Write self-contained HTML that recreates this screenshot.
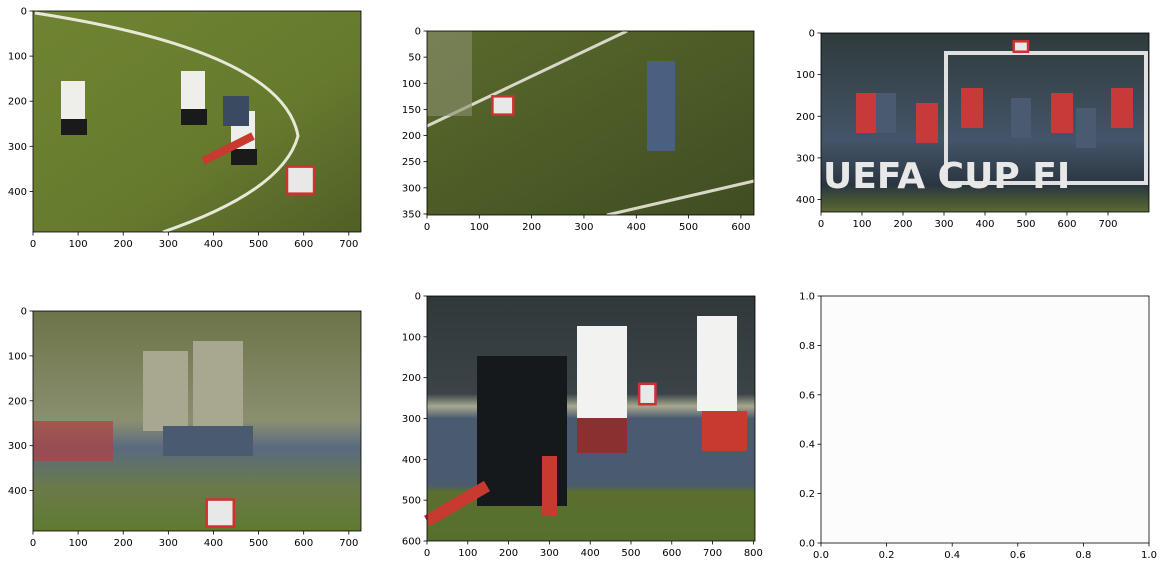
<!DOCTYPE html>
<html><head><meta charset="utf-8"><style>
body{margin:0;background:#fff;}
svg{display:block;font-family:"DejaVu Sans","Liberation Sans",sans-serif;}
</style></head><body>
<svg id="fig" width="1164" height="567" viewBox="0 0 1164 567" xmlns="http://www.w3.org/2000/svg">
<defs>
<linearGradient id="g1" x1="0" y1="0" x2="1" y2="1"><stop offset="0" stop-color="#6f8432"/><stop offset="0.6" stop-color="#667a2e"/><stop offset="1" stop-color="#4f5f26"/></linearGradient>
<linearGradient id="g2" x1="0" y1="0" x2="1" y2="1"><stop offset="0" stop-color="#5a6a2c"/><stop offset="1" stop-color="#3f4d22"/></linearGradient>
<linearGradient id="g3" x1="0" y1="0" x2="0" y2="1"><stop offset="0" stop-color="#2f3a3a"/><stop offset="0.6" stop-color="#44556a"/><stop offset="0.85" stop-color="#2a3540"/><stop offset="1" stop-color="#5a6a30"/></linearGradient>
<linearGradient id="g4" x1="0" y1="0" x2="0" y2="1"><stop offset="0" stop-color="#6c7448"/><stop offset="0.5" stop-color="#8a8f70"/><stop offset="0.62" stop-color="#5a6a80"/><stop offset="0.8" stop-color="#6a7a4a"/><stop offset="1" stop-color="#5f7a30"/></linearGradient>
<linearGradient id="g5" x1="0" y1="0" x2="0" y2="1"><stop offset="0" stop-color="#30383a"/><stop offset="0.4" stop-color="#3a4448"/><stop offset="0.45" stop-color="#a8a890"/><stop offset="0.5" stop-color="#4a5a70"/><stop offset="0.77" stop-color="#4a5a70"/><stop offset="0.8" stop-color="#5a6e30"/><stop offset="1" stop-color="#56702c"/></linearGradient>
</defs>
<g id="root"></g>
</svg>
<script>
// panel data (image sizes, ticks, ball boxes in data coords)
const imgW = [727, 625, 800, 727, 804];
const imgH = [490, 352, 430, 490, 600];
const xTicks1 = [0,100,200,300,400,500,600,700];
const yTicks1 = [0,100,200,300,400];
const xTicks2 = [0,100,200,300,400,500,600];
const yTicks2 = [0,50,100,150,200,250,300,350];
const xTicks3 = [0,100,200,300,400,500,600,700];
const yTicks3 = [0,100,200,300,400];
const xTicks5 = [0,100,200,300,400,500,600,700,800];
const yTicks5 = [0,100,200,300,400,500,600];
const ballX = [563, 125, 470, 385, 520];
const ballY = [345, 125, 20, 420, 215];
const ballW = [60, 40, 35, 60, 40];
const ballH = [60, 35, 25, 60, 50];
const emptyTicks = [0,0.2,0.4,0.6,0.8,1.0];

const NS="http://www.w3.org/2000/svg";
const root=document.getElementById('root');
function mk(tag,attrs,parent){const e=document.createElementNS(NS,tag);for(const k in attrs)e.setAttribute(k,attrs[k]);(parent||root).appendChild(e);return e;}

const boxes=[
 {x:33,y:11,w:328,h:221,fill:'url(#g1)',xt:xTicks1,yt:yTicks1},
 {x:427,y:31,w:327,h:184,fill:'url(#g2)',xt:xTicks2,yt:yTicks2},
 {x:821,y:33,w:328,h:179,fill:'url(#g3)',xt:xTicks3,yt:yTicks3},
 {x:33,y:311,w:328,h:220,fill:'url(#g4)',xt:xTicks1,yt:yTicks1},
 {x:427,y:296,w:328,h:245,fill:'url(#g5)',xt:xTicks5,yt:yTicks5}
];
boxes.forEach((b,i)=>{
  const g=mk('g',{});
  
  
  const sx=v=>b.x+v*b.w/imgW[i], sy=v=>b.y+v*b.h/imgH[i];
  const img=mk('rect',{x:b.x,y:b.y,width:b.w,height:b.h,fill:b.fill},g);
  
  
  // decorative scene shapes
  if(i===0){
    mk('path',{d:`M${b.x+2} ${b.y+2} Q${b.x+250} ${b.y+40} ${b.x+265} ${b.y+125} Q${b.x+250} ${b.y+180} ${b.x+130} ${b.y+221}`,stroke:'#e8e8d8','stroke-width':3,fill:'none'},g);
    [[40,70],[160,60],[210,100]].forEach(p=>{mk('rect',{x:b.x+p[0]-12,y:b.y+p[1],width:24,height:40,fill:'#eeeeea'},g);mk('rect',{x:b.x+p[0]-12,y:b.y+p[1]+38,width:26,height:16,fill:'#1a1a1a'},g);});
    mk('rect',{x:b.x+190,y:b.y+85,width:26,height:30,fill:'#3a4a60'},g);
    mk('path',{d:`M${b.x+170} ${b.y+150} L${b.x+220} ${b.y+125}`,stroke:'#c83a30','stroke-width':8},g);
  } else if(i===1){
    mk('path',{d:`M${b.x} ${b.y+95} L${b.x+200} ${b.y}`,stroke:'#d8d8c8','stroke-width':3},g);
    mk('path',{d:`M${b.x+180} ${b.y+184} L${b.x+327} ${b.y+150}`,stroke:'#d8d8c8','stroke-width':3},g);
    mk('rect',{x:b.x,y:b.y,width:45,height:85,fill:'#8a9070',opacity:0.6},g);
    mk('rect',{x:b.x+220,y:b.y+30,width:28,height:90,fill:'#4a6080'},g);
  } else if(i===2){
    mk('rect',{x:b.x+125,y:b.y+20,width:200,height:130,fill:'none',stroke:'#e0e0e0','stroke-width':4},g);
    [[35,60],[95,70],[140,55],[230,60],[290,55]].forEach(p=>mk('rect',{x:b.x+p[0],y:b.y+p[1],width:22,height:40,fill:'#c83a3a'},g));
    [[55,60],[190,65],[255,75]].forEach(p=>mk('rect',{x:b.x+p[0],y:b.y+p[1],width:20,height:40,fill:'#4a5a70'},g));
    const t=mk('text',{x:b.x+2,y:b.y+155,fill:'#e8e8e8','font-size':36,'font-weight':'bold'},g);t.textContent='UEFA CUP FI';
  } else if(i===3){
    mk('rect',{x:b.x+110,y:b.y+40,width:45,height:80,fill:'#a8a890'},g);
    mk('rect',{x:b.x+160,y:b.y+30,width:50,height:85,fill:'#a8a890'},g);
    mk('rect',{x:b.x+130,y:b.y+115,width:90,height:30,fill:'#4a5a70'},g);
    mk('rect',{x:b.x,y:b.y+110,width:80,height:40,fill:'#b04040',opacity:0.7},g);
  } else if(i===4){
    mk('rect',{x:b.x+50,y:b.y+60,width:90,height:150,fill:'#15191c'},g);
    mk('rect',{x:b.x+150,y:b.y+30,width:50,height:95,fill:'#f2f2f0'},g);
    mk('rect',{x:b.x+150,y:b.y+122,width:50,height:35,fill:'#8a3030'},g);
    mk('rect',{x:b.x+270,y:b.y+20,width:40,height:95,fill:'#f2f2f0'},g);
    mk('rect',{x:b.x+275,y:b.y+115,width:45,height:40,fill:'#c83a30'},g);
    mk('path',{d:`M${b.x} ${b.y+225} L${b.x+60} ${b.y+190}`,stroke:'#c83a30','stroke-width':12},g);
    mk('rect',{x:b.x+115,y:b.y+160,width:15,height:60,fill:'#c83a30'},g);
  }
  const bb=mk('rect',{x:sx(ballX[i]),y:sy(ballY[i]),width:ballW[i]*b.w/imgW[i],height:ballH[i]*b.h/imgH[i],fill:'#e8e8e8',stroke:'#d03030','stroke-width':2.5},g);
  
  
  mk('rect',{x:b.x,y:b.y,width:b.w,height:b.h,fill:'none',stroke:'#000','stroke-width':0.8},g);
  b.xt.forEach(v=>{const X=sx(v);mk('line',{x1:X,x2:X,y1:b.y+b.h,y2:b.y+b.h+3.5,stroke:'#000','stroke-width':0.8},g);
    const t=mk('text',{x:X,y:b.y+b.h+15,'font-size':10,'text-anchor':'middle',fill:'#000'},g);t.textContent=v;
    });
  b.yt.forEach(v=>{const Y=sy(v);mk('line',{x1:b.x-3.5,x2:b.x,y1:Y,y2:Y,stroke:'#000','stroke-width':0.8},g);
    const t=mk('text',{x:b.x-6,y:Y+3.5,'font-size':10,'text-anchor':'end',fill:'#000'},g);t.textContent=v;
    });
});
// empty axes
(function(){
  const b={x:821,y:296,w:328,h:247};
  const g=mk('g',{});
  
  
  mk('rect',{x:b.x,y:b.y,width:b.w,height:b.h,fill:'#fcfcfc',stroke:'#000','stroke-width':0.8},g);
  emptyTicks.forEach(v=>{
    const X=b.x+v*b.w, Y=b.y+b.h-v*b.h;
    mk('line',{x1:X,x2:X,y1:b.y+b.h,y2:b.y+b.h+3.5,stroke:'#000','stroke-width':0.8},g);
    const t=mk('text',{x:X,y:b.y+b.h+15,'font-size':10,'text-anchor':'middle'},g);t.textContent=v.toFixed(1);
    
    mk('line',{x1:b.x-3.5,x2:b.x,y1:Y,y2:Y,stroke:'#000','stroke-width':0.8},g);
    const t2=mk('text',{x:b.x-6,y:Y+3.5,'font-size':10,'text-anchor':'end'},g);t2.textContent=v.toFixed(1);
    
  });
})();
</script>
</body></html>
